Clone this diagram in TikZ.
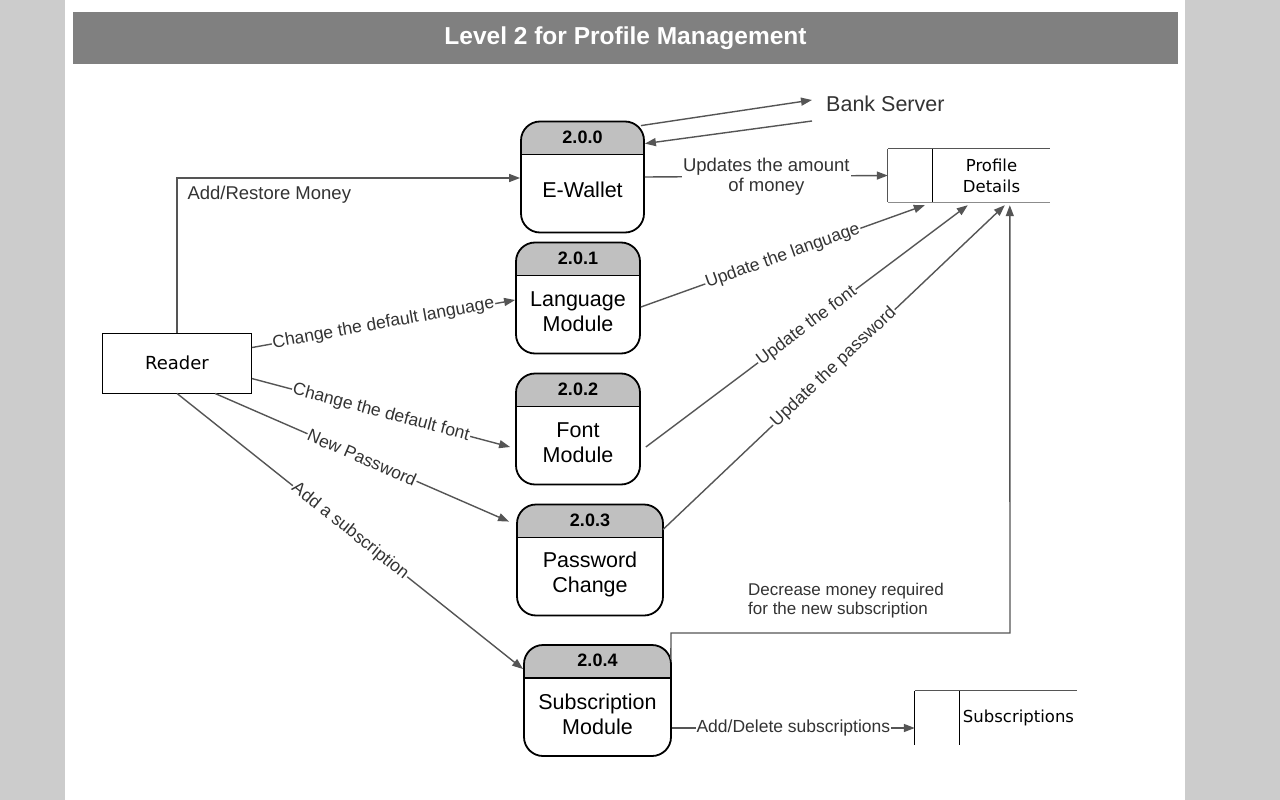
\documentclass[tikz,border=0pt]{standalone}
\usepackage{fontspec}
\setmainfont{Liberation Sans}
\newfontfamily\storefont{DejaVu Sans}
\usetikzlibrary{arrows.meta}
\definecolor{sidegray}{HTML}{CCCCCC}
\definecolor{titlegray}{HTML}{808080}
\definecolor{hdrgray}{HTML}{C0C0C0}
\definecolor{linegray}{HTML}{555555}
\definecolor{labelgray}{HTML}{333333}
\begin{document}
\begin{tikzpicture}[x=1pt,y=-1pt,
  proc/.style={draw=black, line width=1.8pt, rounded corners=19pt, minimum width=#1, minimum height=111pt, inner sep=0pt,
    path picture={\fill[hdrgray, sharp corners] (path picture bounding box.north west) rectangle ([yshift=-33pt]path picture bounding box.north east);
      \draw[line width=1.8pt, sharp corners] ([yshift=-33pt]path picture bounding box.north west) -- ([yshift=-33pt]path picture bounding box.north east);}},
  hdr/.style={font=\fontsize{18}{21}\selectfont\bfseries, text=black},
  body/.style={font=\fontsize{21.5}{25}\selectfont, align=center, text=black},
  flow/.style={draw=linegray, line width=1.4pt, -{Triangle[length=11pt,width=8pt]}},
  lbl/.style={font=\fontsize{17.5}{20}\selectfont, text=labelgray, fill=white, inner sep=1pt, sloped, midway},
  storebox/.style={minimum width=162pt, minimum height=53pt, inner sep=0pt},
  storetxt/.style={font=\storefont\fontsize{16.5}{21}\selectfont, align=center, text=black}
]
\useasboundingbox (0,0) rectangle (1280,800);
\fill[sidegray] (0,0) rectangle (65,800);
\fill[sidegray] (1185,0) rectangle (1280,800);
\fill[white] (65,0) rectangle (1185,800);
\node[fill=titlegray, minimum width=1105pt, minimum height=52pt, inner sep=0pt, text=white,
  font=\fontsize{24.5}{28}\selectfont\bfseries] (title) at (625.5,38) {\raisebox{-2pt}{Level 2 for Profile Management}};

% external entity
\node[draw=black, line width=0.9pt, minimum width=149pt, minimum height=60pt, inner sep=0pt,
  font=\storefont\fontsize{18}{22}\selectfont] (reader) at (177,363) {Reader};
\node[font=\fontsize{21.5}{25}\selectfont, text=labelgray, anchor=west, inner sep=0pt] (bank) at (826,104) {Bank Server};

% processes
\node[proc=123pt] (p0) at (582.5,177) {};
\node[hdr] at ([yshift=-16.5pt]p0.north) {2.0.0};
\node[body] at ([yshift=-13pt]p0.center) {E-Wallet};

\node[proc=124pt] (p1) at (578,298) {};
\node[hdr] at ([yshift=-16.5pt]p1.north) {2.0.1};
\node[body] at ([yshift=-14pt]p1.center) {Language\\Module};

\node[proc=124pt] (p2) at (578,429) {};
\node[hdr] at ([yshift=-16.5pt]p2.north) {2.0.2};
\node[body] at ([yshift=-14pt]p2.center) {Font\\Module};

\node[proc=146pt] (p3) at (590,560) {};
\node[hdr] at ([yshift=-16.5pt]p3.north) {2.0.3};
\node[body] at ([yshift=-14pt]p3.center) {Password\\Change};

\node[proc=147pt] (p4) at (597.5,700.5) {};
\node[hdr] at ([yshift=-16.5pt]p4.north) {2.0.4};
\node[body] at ([yshift=-14pt]p4.center) {Subscription\\Module};

% data stores
\node[storebox] (pd) at (969,175.5) {};
\draw[draw=linegray, line width=1pt] (pd.north west) -- (pd.north east);
\draw[draw=black!45, line width=0.8pt] (pd.south west) -- (pd.south east);
\draw[draw=linegray, line width=1pt] (pd.north west) -- (pd.south west);
\draw[draw=black, line width=1pt] ([xshift=45pt]pd.north west) -- ([xshift=45pt]pd.south west);
\node[storetxt] at ([xshift=22.5pt]pd.center) {Profile\\Details};

\node[storebox, minimum height=54pt] (sd) at (996,718) {};
\draw[draw=linegray, line width=1pt] (sd.north west) -- (sd.north east);
\draw[draw=black, line width=1pt] (sd.north west) -- (sd.south west);
\draw[draw=black, line width=1pt] ([xshift=45pt]sd.north west) -- ([xshift=45pt]sd.south west);
\node[storetxt] at ([xshift=22.5pt]sd.center) {Subscriptions};

% flows with bank server
\coordinate (bankin) at (812,100);
\coordinate (bankout) at (812,121);
\draw[flow] ([xshift=-4pt,yshift=-5pt]p0.north east) -- (bankin);
\draw[flow] (bankout) -- ([yshift=-23pt]p0.north east);

% reader to e-wallet
\coordinate (bend1) at (177,178);
\draw[flow] (reader.north) -- (bend1) -- (p0.west |- bend1);
\node[font=\fontsize{18.5}{22}\selectfont, text=labelgray, anchor=west] at (184,195) {Add/Restore Money};

% e-wallet to profile
\draw[flow] (p0.east) -- (pd.west)
  node[midway, font=\fontsize{18.5}{20}\selectfont, text=labelgray, fill=white, inner sep=1pt, align=center] {Updates the amount\\of money};

% reader to processes
\draw[flow] ([yshift=-15pt]reader.north east) -- ([yshift=-2pt]p1.west) node[lbl] {Change the default language};
\draw[flow] ([yshift=-46pt]reader.north east) -- ([xshift=-5pt,yshift=-18pt]p2.west) node[lbl] {Change the default font};
\draw[flow] ([xshift=38pt]reader.south) -- ([xshift=-7pt,yshift=-18pt]p3.north west) node[lbl] {New Password};
\draw[flow] (reader.south) -- ([xshift=0pt,yshift=-25pt]p4.north west) node[lbl] {Add a subscription};

% processes to profile
\draw[flow] ([yshift=-9pt]p1.east) -- ([xshift=37pt,yshift=-3pt]pd.south west) node[lbl] {Update the language};
\draw[flow] ([xshift=5pt,yshift=-18pt]p2.east) -- ([xshift=80pt,yshift=-3pt]pd.south west) node[lbl] {Update the font};
\draw[flow] ([xshift=-1pt,yshift=-26pt]p3.north east) -- ([xshift=117pt,yshift=-3pt]pd.south west) node[lbl] {Update the password};

% subscription to profile
\coordinate (b2) at (671,633);
\coordinate (b3) at (1010,633);
\draw[flow] ([xshift=-1pt,yshift=-15pt]p4.north east) -- (b2) -- (b3) -- ([xshift=122pt,yshift=-3pt]pd.south west);
\node[font=\fontsize{17}{19}\selectfont, text=labelgray, align=left, anchor=north west, inner sep=0pt] at (748,583) {Decrease money required\\for the new subscription};

% subscription to store
\coordinate (sdin) at ([yshift=-27.5pt]p4.east -| sd.west);
\draw[flow] ([yshift=-27.5pt]p4.east) -- (sdin) node[lbl] {Add/Delete subscriptions};
\end{tikzpicture}
\end{document}
